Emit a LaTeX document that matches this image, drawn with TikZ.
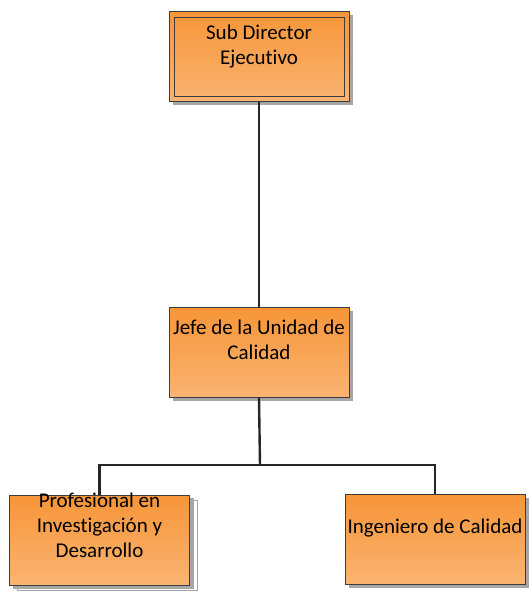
\documentclass[tikz,border=0pt]{standalone}
\usepackage{fontspec}
\setmainfont[Ligatures=CommonOff]{Carlito}
\usetikzlibrary{positioning}
\definecolor{otop}{HTML}{F79538}
\definecolor{obot}{HTML}{FAB472}
\definecolor{shad}{HTML}{A6A6A6}
\definecolor{edge}{HTML}{3C3C3C}
\tikzset{
  orgbox/.style={draw=edge, line width=0.8pt, top color=otop, bottom color=obot, minimum width=180pt, minimum height=90pt, inner sep=0pt},
  shadowbox/.style={fill=shad, draw=none, minimum width=180pt, minimum height=90pt, inner sep=0pt},
  stackbox/.style={fill=white, draw=shad, line width=0.8pt, minimum width=180pt, minimum height=90pt, inner sep=0pt},
  label/.style={font=\fontsize{21}{25}\selectfont, align=center, text=black, inner sep=0pt},
  conn/.style={draw=black!85, line width=2.4pt}
}
\begin{document}
\begin{tikzpicture}[x=1pt,y=-1pt]
\useasboundingbox (0,0) rectangle (528,592);
% top box
\node[shadowbox] at (263,60) {};
\node[orgbox] (top) at (259,56.5) {};
\draw[edge, line width=0.8pt] (174,17) rectangle (344,96);
\node[label, anchor=north] (toptext) at (259,25) {Sub Director\\Ejecutivo};
% middle
\node[shadowbox] at (263,356) {};
\node[orgbox] (mid) at (259,352.5) {};
\node[label, anchor=north] (midtext) at (259,319.5) {Jefe de la Unidad de\\Calidad};
% bottom left with stack
\node[stackbox] at (107,545) {};
\node[stackbox] at (103,543) {};
\node[shadowbox] at (103,543) {};
\node[orgbox] (bl) at (99.5,540) {};
\node[label, anchor=north] (bltext) at (99.5,493) {Profesional en\\Investigación y\\Desarrollo};
% bottom right
\node[shadowbox] at (439,543) {};
\node[orgbox] (br) at (435,539.5) {};
\node[label, anchor=base] (brtext) at (435,533) {Ingeniero de Calidad};
% connectors
\coordinate (j) at (260,465);
\draw[conn] (top.south) -- (mid.north);
\draw[conn] (mid.south) -- (j);
\draw[conn] (bl.north) |- (j) -| (br.north);
\end{tikzpicture}
\end{document}
